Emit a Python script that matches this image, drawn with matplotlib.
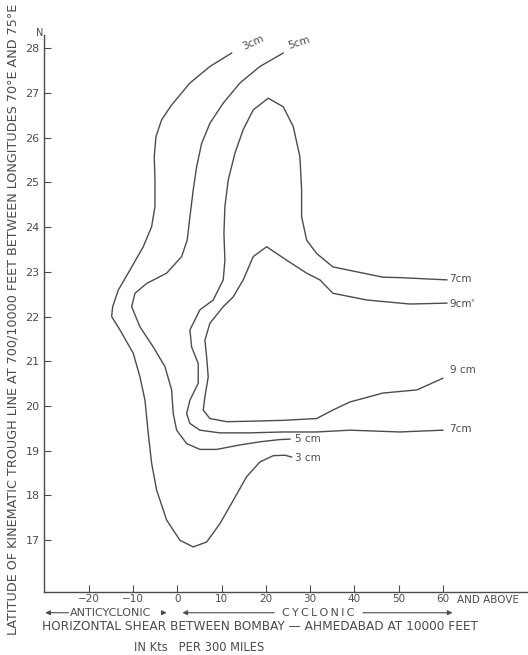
import matplotlib.pyplot as plt

# shear (kts per 300 miles) / latitude (deg N)
c3_x = [12.25, 7.34, 2.82, -1.31, -3.57, -4.86, -5.24, -5.08, -5.08, -5.83, -7.73, -10.73, -13.38,
        -14.64, -14.87, -12.99, -9.99, -8.47, -7.34, -6.60, -5.83, -4.70, -2.44, 0.56, 3.57, 6.60,
        9.60, 12.61, 15.64, 18.64, 21.65, 24.29, 25.81]
c3_y = [27.89, 27.59, 27.22, 26.73, 26.40, 26.02, 25.57, 25.05, 24.46, 24.01, 23.56, 23.04, 22.59,
        22.22, 22.00, 21.70, 21.18, 20.65, 20.13, 19.39, 18.72, 18.12, 17.45, 17.00, 16.85, 16.96,
        17.37, 17.89, 18.42, 18.75, 18.89, 18.90, 18.86]

c5_x = [23.91, 18.64, 14.12, 10.35, 7.34, 5.47, 4.34, 3.57, 2.82, 2.21, 0.95, -2.44, -6.96, -9.60,
        -10.35, -8.47, -5.47, -2.82, -1.31, -0.95, -0.18, 2.08, 5.08, 8.86, 14.12, 18.64, 23.16, 25.42]
c5_y = [27.89, 27.59, 27.22, 26.77, 26.32, 25.87, 25.35, 24.83, 24.23, 23.71, 23.34, 22.97, 22.74, 22.52,
        22.22, 21.77, 21.32, 20.88, 20.36, 19.83, 19.46, 19.16, 19.03, 19.03, 19.13, 19.20, 19.25, 19.26]

c7_x = [60.90, 50.28, 46.44, 35.14, 31.46, 29.20, 28.07, 28.07, 27.68, 26.17, 23.91, 20.52, 17.13,
        14.87, 12.99, 11.48, 10.73, 10.51, 10.73, 10.35, 8.09, 5.08, 2.82, 3.21, 4.70, 4.70, 2.82,
        2.08, 2.82, 5.08, 9.60, 16.38, 23.91, 31.46, 38.98, 50.28, 59.99]
c7_y = [22.82, 22.87, 22.88, 23.11, 23.41, 23.71, 24.23, 24.83, 25.57, 26.25, 26.69, 26.88, 26.62,
        26.18, 25.65, 25.05, 24.46, 23.86, 23.26, 22.82, 22.37, 22.15, 21.70, 21.32, 20.95, 20.51, 20.13,
        19.83, 19.61, 19.46, 19.40, 19.40, 19.42, 19.42, 19.46, 19.42, 19.46]

c9_x = [60.90, 52.54, 42.82, 35.14, 32.20, 29.20, 24.68, 20.16, 17.13, 14.87, 12.61, 10.35, 7.34,
        6.21, 6.60, 6.96, 6.21, 5.83, 7.34, 11.12, 16.38, 23.91, 31.46, 35.14, 38.98, 46.44, 54.12, 59.99]
c9_y = [22.30, 22.28, 22.37, 22.52, 22.82, 22.97, 23.26, 23.56, 23.34, 22.82, 22.44, 22.22, 21.85,
        21.47, 21.10, 20.65, 20.21, 19.91, 19.72, 19.65, 19.66, 19.68, 19.72, 19.91, 20.09, 20.29, 20.36, 20.62]

x_ticks = [-20, -10, 0, 10, 20, 30, 40, 50, 60]
x_ticklabels = ['\u221220', '\u221210', '0', '10', '20', '30', '40', '50', '60']
y_ticks = list(range(17, 29))

ink = '#4c4c4c'

fig = plt.figure(figsize=(5.28, 6.55), dpi=100)
ax = fig.add_axes([0.083, 0.096, 0.915, 0.851])

for xs, ys in [(c3_x, c3_y), (c5_x, c5_y), (c7_x, c7_y), (c9_x, c9_y)]:
    ax.plot(xs, ys, color=ink, lw=1.0, solid_joinstyle='round')

ax.set_xlim(-30.2, 79)
ax.set_ylim(15.84, 28.3)
for s in ['top', 'right']:
    ax.spines[s].set_visible(False)
for s in ['left', 'bottom']:
    ax.spines[s].set_color(ink)
    ax.spines[s].set_linewidth(1.0)

ax.set_xticks(x_ticks)
ax.set_xticklabels(x_ticklabels)
ax.set_yticks(y_ticks)
ax.tick_params(direction='in', length=5, width=0.8, colors=ink, labelsize=8, pad=3)
ax.tick_params(axis='x', labelsize=7.5, pad=1.5)

# contour labels
lab = dict(color=ink, fontsize=7.5, va='center', ha='left')
ax.text(14.3, 28.12, '3cm', rotation=25, **lab)
ax.text(24.6, 28.12, '5cm', rotation=18, **lab)
ax.text(61.5, 22.84, '7cm', **lab)
ax.text(61.5, 22.28, "9cm'", **lab)
ax.text(61.5, 20.80, '9 cm', **lab)
ax.text(61.5, 19.48, '7cm', **lab)
ax.text(26.6, 19.27, '5 cm', **lab)
ax.text(26.6, 18.84, '3 cm', **lab)

ax.text(-31.1, 28.34, 'N', color=ink, fontsize=7, ha='center', va='center', clip_on=False)
ax.text(63.2, -0.0045, 'AND ABOVE', transform=ax.get_xaxis_transform(), color=ink,
        fontsize=7.5, ha='left', va='top')

# cyclonic / anticyclonic arrows under the axis
tr = ('data', 'axes fraction')
arr = dict(arrowstyle='-|>', color=ink, lw=0.8, mutation_scale=7)
yrow = -0.037
ax.annotate('', xy=(-30.5, yrow), xytext=(-24.0, yrow), xycoords=tr, textcoords=tr, arrowprops=arr)
ax.annotate('', xy=(-1.8, yrow), xytext=(-4.3, yrow), xycoords=tr, textcoords=tr, arrowprops=arr)
ax.text(-15.0, yrow, 'ANTICYCLONIC', transform=ax.get_xaxis_transform(), color=ink,
        fontsize=8, ha='center', va='center')
ax.annotate('', xy=(0.5, yrow), xytext=(22.5, yrow), xycoords=tr, textcoords=tr, arrowprops=arr)
ax.annotate('', xy=(62.8, yrow), xytext=(41.3, yrow), xycoords=tr, textcoords=tr, arrowprops=arr)
ax.text(31.8, yrow, '\u2009'.join('CYCLONIC'), transform=ax.get_xaxis_transform(), color=ink,
        fontsize=8, ha='center', va='center')

ax.text(-30.5, -0.061, 'HORIZONTAL SHEAR BETWEEN BOMBAY \u2014 AHMEDABAD AT 10000 FEET',
        transform=ax.get_xaxis_transform(), color=ink, fontsize=8.7, ha='left', va='center')
ax.text(5.0, -0.099, 'IN Kts   PER 300 MILES', transform=ax.get_xaxis_transform(),
        color=ink, fontsize=8.3, ha='center', va='center')

fig.text(0.024, 0.513,
         'LATITUDE OF KINEMATIC TROUGH LINE AT 700/10000 FEET BETWEEN LONGITUDES 70\u00b0E AND 75\u00b0E',
         rotation=90, color=ink, fontsize=9.2, ha='center', va='center')

fig.savefig('out.png', dpi=100)
